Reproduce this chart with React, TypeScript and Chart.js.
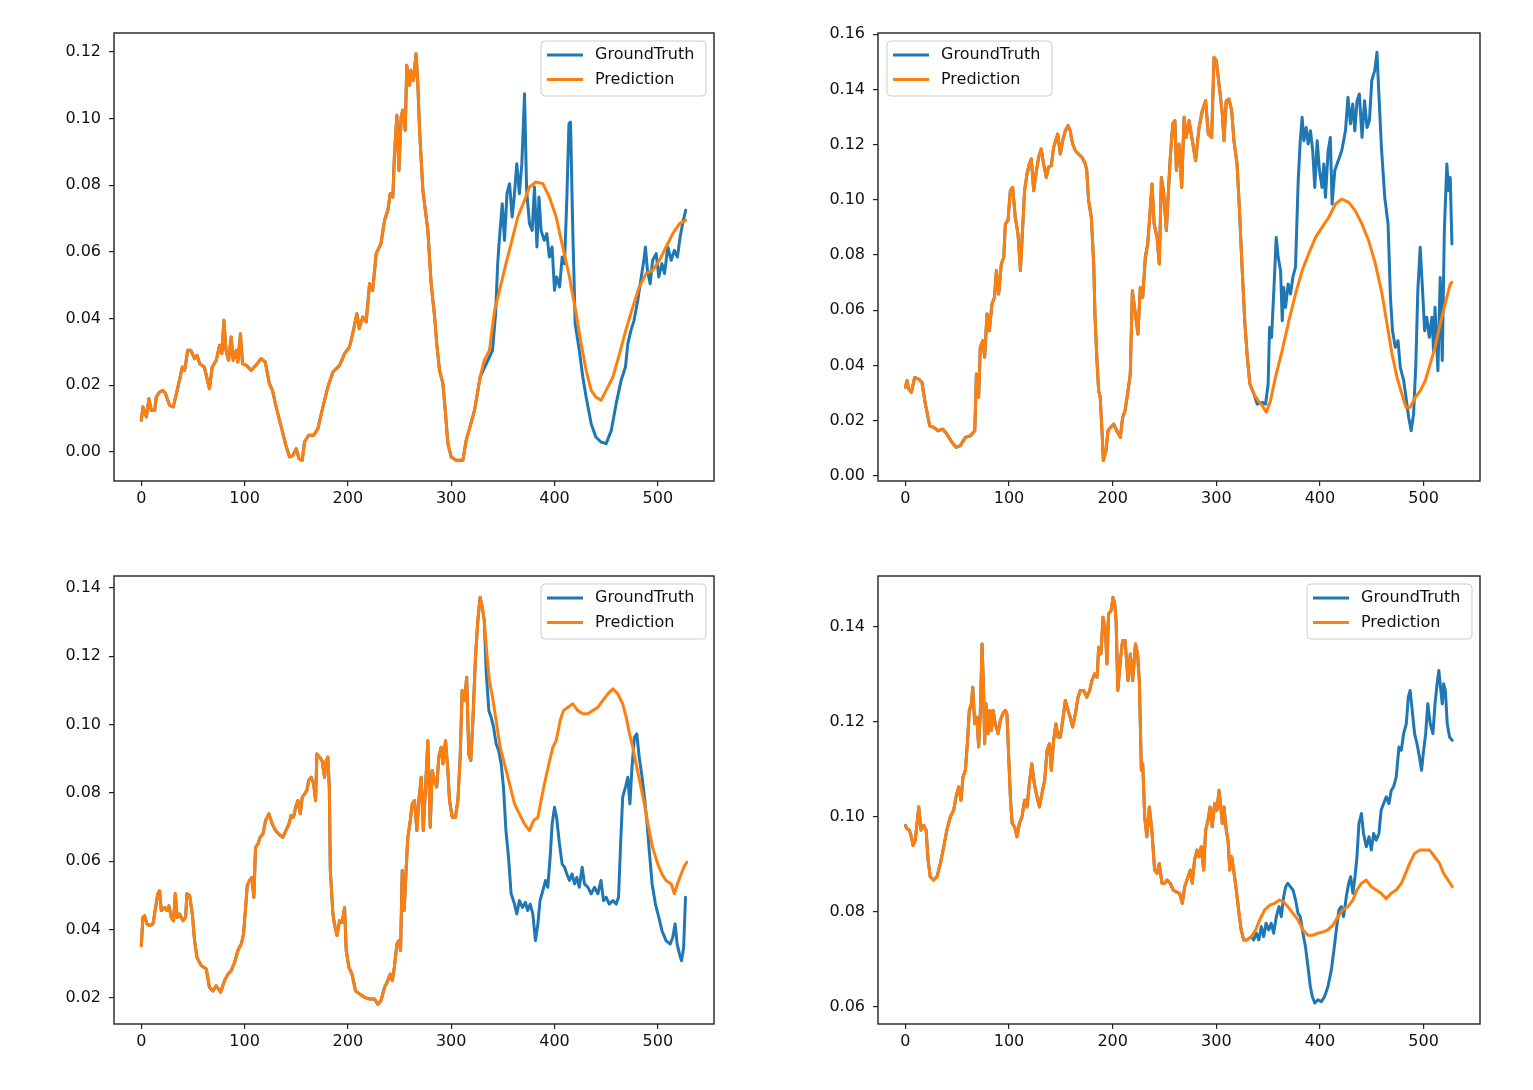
import React, { useEffect, useRef } from "react";
import { Chart, registerables } from "chart.js";

Chart.register(...registerables);

type P = [number, number];

// ---------------- data ----------------
const seriesNames = ["GroundTruth", "Prediction"];
const seriesColors = ["#1f77b4", "#ff7f0e"];
const xTicks = [0, 100, 200, 300, 400, 500];

// top-left panel
const tlYTicks = [0, 0.02, 0.04, 0.06, 0.08, 0.1, 0.12];
const tlShared: P[] = [[0,0.0095],[1.6,0.0135],[5,0.0105],[7.4,0.016],[9.7,0.0125],[13,0.0125],[14.5,0.0165],[17.7,0.018],[21,0.0185],[23.5,0.0175],[27.4,0.014],[31,0.0135],[34,0.0175],[37,0.0215],[39.7,0.0255],[42,0.0245],[45,0.0305],[48,0.0305],[51.6,0.028],[54,0.029],[56.5,0.0265],[61,0.0255],[66,0.019],[68.7,0.0255],[72.6,0.0275],[75.8,0.032],[78,0.0295],[80,0.0395],[82,0.0305],[84.5,0.0275],[87,0.0345],[89,0.0275],[92,0.0305],[93.5,0.027],[96,0.0355],[98,0.0265],[101.6,0.026],[106.5,0.0245],[111,0.026],[116,0.028],[120,0.027],[124,0.0205],[127,0.0185],[130.6,0.0135],[135.5,0.0075],[140,0.002],[143.5,-0.0015],[146.8,-0.001],[150,0.001],[152.6,-0.002],[155.8,-0.0025],[158,0.003],[162,0.005],[166.8,0.005],[171,0.007],[175.8,0.0135],[180.6,0.0195],[185.5,0.024],[192,0.026],[196.8,0.0295],[201.6,0.0315],[205,0.036],[208.7,0.0415],[211,0.037],[214.5,0.0405],[217.7,0.039],[221,0.0505],[224,0.0485],[227.4,0.0595],[232,0.0625],[235.5,0.0695],[238.7,0.0725],[241,0.0775],[243.5,0.0765],[245,0.0885],[247.4,0.101],[249.4,0.0845],[251.6,0.1005],[253,0.1025],[255.5,0.0965],[257,0.116],[259.7,0.11],[261,0.1145],[263.5,0.1115],[266,0.1195],[267.7,0.1105],[269.4,0.0965],[272.6,0.0785],[277.4,0.0665],[280.6,0.0505],[284,0.0405],[286,0.0325],[288.7,0.0245],[292,0.0205],[294.5,0.0115],[296.8,0.0025],[300,-0.0015],[304.8,-0.0025],[311.3,-0.0025],[314.5,0.0035],[317.7,0.007],[322.6,0.0125],[328,0.0225]];
const tlPredTail: P[] = [[332,0.0275],[337,0.0305],[342,0.0425],[346.8,0.0485],[353,0.0565],[358,0.0625],[364.5,0.0705],[371,0.0755],[375.8,0.0795],[382,0.081],[388.7,0.0805],[395,0.0765],[401.6,0.0705],[408,0.0615],[414.5,0.0525],[421,0.0415],[425.8,0.0325],[430.6,0.0245],[435.5,0.0185],[440,0.0165],[445,0.0155],[450,0.0185],[456.5,0.0225],[463,0.0295],[469,0.0365],[475.8,0.0435],[482,0.0495],[488.7,0.0535],[495,0.0545],[501.6,0.0575],[508,0.0615],[514.5,0.0655],[521,0.0685],[527,0.0695]];
const tlTruthTail: P[] = [[337,0.0285],[340,0.0305],[343,0.0415],[345,0.0565],[346.8,0.0645],[349.4,0.0745],[351.6,0.0635],[354,0.0775],[356.5,0.0805],[359,0.0705],[361,0.0765],[363.5,0.0865],[366,0.0775],[368.4,0.0865],[371,0.1075],[373,0.0785],[375.8,0.0685],[378.4,0.0665],[380.6,0.0795],[383,0.0615],[385,0.0765],[387,0.0665],[390,0.0635],[392.6,0.0655],[395,0.0585],[397.7,0.0615],[400,0.0485],[402,0.0525],[405,0.0495],[407.4,0.0585],[409.7,0.0565],[412,0.0765],[414,0.0985],[415.5,0.099],[417.7,0.0665],[420,0.0385],[424,0.0305],[427.4,0.0225],[430.6,0.0165],[435.5,0.0085],[440,0.0045],[445,0.003],[450,0.0025],[455,0.0065],[459.7,0.0145],[464.5,0.0215],[468.7,0.0255],[471,0.0325],[474,0.0365],[477,0.0395],[480.6,0.0455],[484,0.0525],[486.5,0.0575],[488,0.0615],[490,0.0545],[492.6,0.0505],[495,0.0575],[498.4,0.0595],[501,0.0525],[504,0.0565],[506.5,0.0535],[509.7,0.0615],[513,0.0575],[516,0.0605],[519,0.0585],[521.6,0.0645],[524,0.0685],[527,0.0725]];

// top-right panel
const trYTicks = [0, 0.02, 0.04, 0.06, 0.08, 0.1, 0.12, 0.14, 0.16];
const trShared: P[] = [[0,0.0321],[1.6,0.0345],[3.2,0.0315],[5.8,0.0303],[9,0.0357],[12.9,0.0351],[16,0.0339],[19.3,0.0261],[23.5,0.0182],[27.3,0.0176],[31.5,0.0164],[36,0.017],[40,0.0152],[45,0.0122],[49,0.0104],[53,0.011],[57.9,0.014],[62.7,0.0146],[67,0.0164],[68.5,0.0369],[70.7,0.0285],[72.3,0.0466],[74.6,0.049],[76.5,0.043],[78.8,0.0587],[81,0.0526],[83.6,0.0623],[86,0.0647],[87.8,0.0744],[90,0.0659],[92.6,0.0768],[94.9,0.0792],[96.5,0.0913],[99,0.0925],[101.3,0.1033],[103.5,0.1045],[106,0.0937],[108.7,0.0876],[111,0.0744],[113,0.0888],[115,0.1033],[117.4,0.1094],[119.6,0.113],[121.5,0.1148],[123.8,0.1033],[126,0.1094],[128.6,0.1154],[131,0.1184],[133.4,0.113],[136,0.1081],[138,0.1118],[140.8,0.1124],[143,0.119],[145,0.1214],[147,0.1238],[149.5,0.1166],[151.8,0.1214],[154.3,0.125],[157,0.1269],[159,0.125],[161.4,0.1202],[164,0.1178],[167,0.1166],[170.4,0.1154],[173.6,0.113],[175,0.1106],[176.8,0.0997],[179.4,0.0937],[181.7,0.0768],[183,0.0575],[185,0.0406],[186.5,0.0309],[188,0.0285],[189.7,0.0164],[191,0.0056],[193.6,0.0092],[195.5,0.0164],[198,0.0176],[201,0.0188],[204,0.0164],[207.4,0.014],[209.6,0.0212],[212,0.0237],[214.8,0.0309],[217,0.0369],[219,0.0671],[221.9,0.0587],[224.4,0.0514],[226.7,0.0683],[229,0.0647],[231.5,0.0792],[233.8,0.084],[235.7,0.0937],[238,0.1057],[240,0.0913],[242.8,0.0864],[245,0.0768],[247,0.1081],[249,0.1033],[251.8,0.0888],[254,0.1045],[255.6,0.1154],[258,0.1275],[260,0.1287],[261.5,0.1106],[264,0.1202],[266.6,0.1045],[268.9,0.1299],[271,0.1226],[273.7,0.1287],[276.9,0.1214],[280,0.1142],[283.4,0.1262],[286.5,0.1323],[289.7,0.1359],[292.3,0.1238],[295.5,0.1226],[297.8,0.1516],[300,0.1504],[302.6,0.1419],[305.8,0.1311],[307.4,0.1214],[309.6,0.1359],[312.2,0.1365],[314.8,0.1323],[317,0.1214],[320,0.113],[322.5,0.0949],[325,0.0744],[327.6,0.055],[329.9,0.043],[332.4,0.0333],[336.3,0.0297]];
const trPredTail: P[] = [[340.4,0.0273],[344.3,0.0255],[348.2,0.0231],[352.3,0.0273],[357,0.0357],[363.5,0.0454],[370,0.0562],[376.4,0.0659],[382.8,0.0744],[389,0.0804],[395.7,0.0864],[402,0.09],[408.5,0.0937],[415,0.0985],[421,0.1003],[427.8,0.0991],[434,0.0961],[440.6,0.0912],[447,0.0852],[453.5,0.0768],[459.9,0.0659],[464.7,0.055],[469.5,0.0442],[474.3,0.0357],[479,0.0297],[483,0.0249],[487,0.0249],[492,0.0285],[496.8,0.0309],[501.6,0.0345],[506.4,0.0406],[511,0.0466],[516,0.055],[520.8,0.0623],[525.7,0.0695],[527.3,0.0701]];
const trTruthTail: P[] = [[339.5,0.026],[344.3,0.0267],[347.5,0.026],[350,0.0333],[351.4,0.0538],[353.3,0.0502],[355.5,0.0671],[357.8,0.0864],[359.7,0.0792],[362,0.0744],[363.6,0.0562],[365,0.0683],[366.8,0.0611],[369.3,0.0695],[371.6,0.0659],[373.8,0.0719],[376.4,0.0756],[379,0.1069],[381,0.1214],[382.8,0.1299],[384.4,0.1214],[386.7,0.1262],[388.6,0.1202],[390.8,0.125],[393,0.1178],[395,0.1045],[397.3,0.1214],[399.5,0.1106],[402,0.1045],[403.7,0.113],[405.3,0.1009],[407.9,0.1178],[410,0.1226],[411.7,0.0985],[414.3,0.1106],[416.5,0.113],[418.8,0.1154],[421,0.1178],[424.6,0.125],[427,0.1371],[429.4,0.1275],[431.6,0.1347],[433.6,0.125],[435.8,0.1359],[438,0.1383],[440.6,0.1226],[443,0.1359],[445.4,0.1262],[447.7,0.1287],[450,0.1432],[452.8,0.1468],[455,0.1534],[456.7,0.1395],[459.3,0.119],[462.5,0.1009],[465.7,0.0913],[468,0.0647],[470,0.0526],[472.7,0.0466],[475.3,0.049],[477.5,0.0393],[480.8,0.0345],[483,0.0285],[485.6,0.0212],[488,0.0164],[490.3,0.0224],[492.5,0.0406],[494.4,0.0671],[496.7,0.0828],[499,0.0671],[501,0.0526],[503,0.0575],[505.5,0.0502],[508,0.0575],[509.6,0.0454],[511,0.0611],[513.8,0.0381],[516,0.0719],[518,0.0418],[520,0.0888],[522.4,0.113],[524,0.1033],[525.7,0.1081],[527.3,0.084]];

// bottom-left panel
const blYTicks = [0.02, 0.04, 0.06, 0.08, 0.1, 0.12, 0.14];
const blShared: P[] = [[0,0.0353],[1.6,0.0436],[3.2,0.0441],[5.5,0.0417],[8,0.0412],[11.3,0.0417],[13.9,0.0465],[16,0.0505],[17.7,0.0514],[19.4,0.0456],[22.6,0.0465],[24.8,0.0456],[26.8,0.047],[29,0.0436],[31.3,0.0426],[32.9,0.0505],[34.8,0.0436],[37,0.0446],[40.3,0.0426],[42.9,0.0436],[44.2,0.0505],[46.8,0.05],[49.4,0.0446],[51.6,0.0368],[53.9,0.0319],[58,0.0295],[62.9,0.0285],[66,0.0231],[69.4,0.0221],[72.6,0.0236],[76.8,0.0217],[80.6,0.0251],[83.9,0.027],[87,0.028],[90.3,0.0304],[93.5,0.0339],[96.8,0.0358],[99,0.0387],[101,0.0465],[102.6,0.0529],[104.8,0.0544],[107,0.0553],[109,0.0495],[110.6,0.0641],[113,0.0651],[115,0.067],[117.7,0.068],[120.3,0.0719],[123.5,0.0739],[126.8,0.0709],[130,0.069],[133,0.068],[137,0.067],[140,0.069],[142.9,0.0709],[145,0.0734],[147.4,0.0729],[149.4,0.0758],[151.6,0.0778],[153.9,0.0739],[155.8,0.0788],[158,0.0797],[160.3,0.0807],[162,0.0836],[164.5,0.0846],[166.8,0.0827],[168.7,0.0778],[170,0.0914],[172.6,0.0905],[175,0.0895],[177.4,0.0846],[179,0.0895],[180.6,0.0905],[182,0.0817],[183,0.0573],[185.5,0.0446],[187,0.0417],[189.4,0.0383],[191.9,0.0426],[194.5,0.0421],[196.8,0.0465],[198.4,0.0339],[201,0.029],[204,0.027],[207.4,0.0221],[211.3,0.0212],[216,0.0202],[221,0.0197],[225.8,0.0197],[229,0.0182],[232,0.0192],[235.5,0.0231],[238.7,0.0251],[241,0.027],[243,0.0251],[245,0.029],[247.4,0.0358],[249.4,0.0368],[251,0.0339],[252.6,0.0573],[254.5,0.0456],[256.5,0.0583],[258,0.067],[260,0.0709],[262.3,0.0768],[264.5,0.0778],[266.8,0.069],[268.7,0.0778],[271,0.0846],[273,0.069],[275,0.0807],[277.4,0.0953],[279.7,0.07],[281.6,0.0866],[284,0.0836],[286,0.0817],[288,0.0905],[290.3,0.0934],[292,0.0885],[294.5,0.0953],[296.8,0.0866],[298.4,0.0778],[301,0.0729],[304,0.0729],[306.5,0.0778],[308.7,0.0905],[310.6,0.11],[313,0.1071],[315,0.1139],[317,0.0914],[319,0.0895],[321,0.1012],[323.5,0.1197],[325.8,0.1305],[328,0.1373],[330,0.1344],[332,0.1305]];
const blPredTail: P[] = [[334.5,0.1207],[337,0.1129],[340,0.108],[343.5,0.1012],[347.4,0.0934],[351.6,0.0885],[356.5,0.0827],[361.3,0.0768],[366,0.0739],[371,0.0709],[375.8,0.069],[379.7,0.0719],[383.9,0.0729],[387,0.0778],[390.3,0.0827],[394.5,0.0885],[398.4,0.0934],[401.6,0.0953],[405.5,0.1012],[408.7,0.1041],[413,0.1051],[417.7,0.1061],[422.6,0.1041],[427.4,0.1032],[432.3,0.1032],[437,0.1041],[442,0.1051],[446.8,0.1071],[451.6,0.109],[456.5,0.1105],[461.3,0.109],[466,0.1061],[469.4,0.1022],[472.6,0.0973],[475.8,0.0934],[479,0.0885],[483,0.0827],[487,0.0768],[491,0.07],[495,0.0641],[500,0.0592],[504,0.0563],[508,0.0544],[513,0.0534],[516,0.0505],[519,0.0534],[522.6,0.0563],[525.8,0.0587],[528,0.0597]];
const blTruthTail: P[] = [[334,0.1149],[336.5,0.1041],[338.7,0.1022],[341,0.0993],[343.5,0.0944],[346,0.0924],[348.4,0.0885],[350.6,0.0817],[353,0.069],[355.5,0.0612],[358,0.0505],[361.3,0.0475],[363.5,0.0446],[366,0.0485],[369,0.0465],[371.9,0.048],[374,0.0456],[376.5,0.0475],[379,0.0446],[381.6,0.0368],[383.9,0.0417],[386,0.0485],[388.7,0.0514],[391.3,0.0544],[393.5,0.0524],[395.8,0.0612],[397.7,0.0709],[400,0.0758],[402,0.0729],[404.8,0.0651],[407.4,0.0592],[409.7,0.0583],[412,0.0563],[414.5,0.0544],[417,0.0563],[419.4,0.0534],[421.6,0.0553],[424,0.0524],[426.8,0.0583],[429,0.0534],[432.3,0.0524],[435.5,0.0505],[438.7,0.0524],[442,0.0505],[445,0.0544],[447.4,0.0485],[450,0.0495],[453,0.0475],[456.5,0.0485],[459.7,0.0475],[462,0.0495],[464,0.0651],[466,0.0788],[468.7,0.0817],[471,0.0846],[473,0.0768],[475,0.0875],[477.4,0.0963],[479.7,0.0973],[482,0.0905],[484.8,0.0846],[487,0.0788],[489.4,0.0719],[492,0.0622],[494.5,0.0534],[497.7,0.0475],[501,0.0436],[504,0.0397],[508,0.0368],[512,0.0358],[514.5,0.0378],[516.8,0.0417],[518.7,0.0358],[521,0.0329],[523,0.0309],[525,0.0348],[526.8,0.0495]];

// bottom-right panel
const brYTicks = [0.06, 0.08, 0.1, 0.12, 0.14];
const brShared: P[] = [[0,0.0982],[1.6,0.0975],[3.9,0.0972],[5.8,0.0958],[7.4,0.094],[9.6,0.0951],[12.9,0.1021],[15,0.0972],[17.7,0.0982],[20,0.0972],[21.9,0.0909],[24,0.0874],[27.3,0.0867],[30.5,0.0874],[33.8,0.0902],[37,0.0937],[40,0.0972],[43.4,0.1],[46.6,0.1014],[48.9,0.1042],[51.4,0.1063],[53.7,0.1035],[55.6,0.1084],[57.9,0.1098],[59.8,0.1154],[61.7,0.1224],[63.7,0.1238],[65,0.1273],[66.9,0.1196],[69,0.121],[70.7,0.1147],[72.3,0.1217],[74,0.1364],[75.6,0.1252],[76.5,0.1154],[77.8,0.1238],[79.7,0.1175],[81.4,0.1224],[83,0.1182],[84.6,0.1224],[86.8,0.1196],[89.4,0.1175],[91.6,0.1203],[94,0.1217],[96.5,0.1224],[98,0.1217],[99.7,0.1126],[101.3,0.1042],[103,0.0986],[105.5,0.0979],[107.7,0.0958],[110,0.0986],[112.5,0.1],[115,0.1035],[117.4,0.1021],[119.6,0.107],[122,0.1112],[124.4,0.107],[127,0.1042],[129.3,0.1021],[131.8,0.1049],[134.4,0.1077],[136.7,0.114],[139,0.1154],[140.8,0.1098],[143,0.1161],[145.3,0.1196],[147.3,0.1168],[149.5,0.1168],[151.8,0.1203],[154.3,0.1245],[157,0.1224],[159,0.121],[161.4,0.1189],[164,0.1217],[166.6,0.1252],[168.8,0.1266],[172,0.1266],[175,0.1252],[177.8,0.1266],[180,0.1287],[182.6,0.1301],[185,0.1294],[186.5,0.1357],[188.7,0.1343],[190.7,0.142],[193,0.1392],[194.5,0.1322],[196,0.1427],[198.4,0.1434],[200.3,0.1462],[202,0.1448],[203.3,0.1413],[205,0.1266],[207.4,0.1329],[209.6,0.1371],[212,0.1371],[214.8,0.1287],[217,0.1343],[219.3,0.1287],[222,0.1364],[224,0.1343],[225.7,0.1287],[227.7,0.1098],[229,0.1112],[230.9,0.1],[233,0.0958],[235.4,0.1021],[238,0.0965],[240.5,0.0888],[242.8,0.0881],[245,0.0902],[247.6,0.086],[250,0.086],[252.4,0.0867],[255.6,0.086],[258.5,0.0846],[261.4,0.0842],[264.6,0.0839],[267.2,0.0818],[269.5,0.0853],[272.7,0.0874],[275,0.0888],[276.8,0.086],[279,0.0909],[281.4,0.093],[283.3,0.0916],[285.5,0.0937],[287.8,0.0888],[289.7,0.0972],[292,0.0993],[294,0.1021],[296,0.0979],[298.4,0.1028],[300.6,0.1014],[302.6,0.1056],[304,0.1028],[305.8,0.0986],[307.4,0.1021],[309.6,0.0972],[311.3,0.0951],[313,0.0888],[314.8,0.0916],[316.7,0.0888],[319.3,0.0846],[321.9,0.0797],[324,0.0762],[326.4,0.0741],[329.6,0.0741],[333.8,0.0748]];
const brPredTail: P[] = [[338,0.0762],[341.8,0.0783],[346.6,0.0804],[351.4,0.0814],[356.3,0.0818],[361,0.0825],[365,0.0821],[369,0.0811],[374,0.0797],[378.8,0.0783],[383.6,0.0762],[388.4,0.0751],[393.2,0.0751],[398,0.0755],[403,0.0758],[407.7,0.0762],[412.5,0.0772],[417.4,0.079],[422,0.0804],[427,0.0811],[431.8,0.0825],[435.7,0.0846],[439.9,0.086],[444.7,0.0867],[449.5,0.0853],[454.3,0.0846],[459,0.0839],[464,0.0828],[468.8,0.0839],[473.6,0.0846],[478.5,0.086],[482.6,0.0881],[486.5,0.0902],[491.3,0.0923],[496,0.093],[501,0.093],[505.8,0.093],[510.6,0.0916],[515.4,0.0902],[519.3,0.0881],[523.5,0.0867],[527.7,0.0853]];
const brTruthTail: P[] = [[336,0.0741],[338.6,0.0755],[341,0.0741],[343.4,0.0769],[345.7,0.0748],[348,0.0776],[350.5,0.0762],[353,0.0776],[355.3,0.0755],[357.9,0.079],[360.5,0.0811],[362.7,0.079],[365,0.0832],[366.9,0.0853],[369,0.086],[371.4,0.0853],[374,0.0846],[376.5,0.0825],[378.8,0.0797],[381,0.079],[383.6,0.0755],[386,0.0727],[388.4,0.0685],[390.7,0.0643],[392.6,0.0622],[395,0.0608],[398,0.0615],[401.3,0.0611],[404.5,0.0622],[407.7,0.0643],[411,0.0678],[413.5,0.072],[415.8,0.0762],[418.3,0.0804],[420.6,0.0811],[422.8,0.079],[425.4,0.0832],[427.7,0.086],[429.6,0.0874],[431.8,0.0839],[433.8,0.0874],[435.7,0.0916],[437.6,0.0986],[440,0.1007],[442,0.0965],[444.7,0.0937],[447.3,0.0958],[449.5,0.093],[451.8,0.0965],[454.3,0.0951],[456.9,0.0965],[459,0.1014],[461.4,0.1028],[464,0.1042],[466.6,0.1028],[468.8,0.1056],[471,0.1063],[473.6,0.1084],[476.2,0.1147],[478.5,0.114],[480.7,0.1175],[483.3,0.1196],[485.2,0.1252],[487,0.1266],[489,0.1224],[491.3,0.1175],[493.6,0.1154],[496,0.1126],[498,0.1098],[500,0.114],[502,0.1175],[504,0.1238],[506.4,0.1196],[509,0.1175],[511,0.1238],[513,0.128],[514.7,0.1308],[516.3,0.1273],[518,0.1238],[519.3,0.128],[521,0.1266],[522.8,0.1196],[525,0.1168],[527.6,0.1161]];

// ---------------- layout ----------------
const AXIS_W = 100;
const AXIS_H = 40;
const PAD_TOP = 20;
const PAD_RIGHT = 10;
const FONT = "'DejaVu Sans', 'Liberation Sans', sans-serif";

type PanelProps = {
  area: { left: number; top: number; width: number; height: number };
  shared: P[];
  pred: P[];
  truth: P[];
  yMin: number;
  yMax: number;
  yTicks: number[];
  legendLeft: boolean;
};

function Panel({ area, shared, pred, truth, yMin, yMax, yTicks, legendLeft }: PanelProps) {
  const ref = useRef<HTMLCanvasElement>(null);
  const cw = area.width + AXIS_W + PAD_RIGHT;
  const ch = area.height + PAD_TOP + AXIS_H;

  useEffect(() => {
    if (!ref.current) return;
    const toPts = (a: P[]) => a.map(([x, y]) => ({ x, y }));
    const truthData = toPts([...shared, ...truth]);
    const predData = toPts([...shared, ...pred]);

    const framePlugin = {
      id: "frame",
      afterDatasetsDraw(chart: any) {
        const { ctx, chartArea } = chart;
        ctx.save();
        ctx.strokeStyle = "#222";
        ctx.lineWidth = 1.4;
        ctx.strokeRect(chartArea.left, chartArea.top, chartArea.right - chartArea.left, chartArea.bottom - chartArea.top);
        ctx.restore();
      },
    };

    const legendPlugin = {
      id: "boxLegend",
      afterDraw(chart: any) {
        const { ctx, chartArea } = chart;
        const w = 165;
        const h = 55;
        const bx = legendLeft ? chartArea.left + 9 : chartArea.right - 8 - w;
        const by = chartArea.top + 8;
        ctx.save();
        ctx.beginPath();
        const r = 4;
        ctx.moveTo(bx + r, by);
        ctx.lineTo(bx + w - r, by);
        ctx.arcTo(bx + w, by, bx + w, by + r, r);
        ctx.lineTo(bx + w, by + h - r);
        ctx.arcTo(bx + w, by + h, bx + w - r, by + h, r);
        ctx.lineTo(bx + r, by + h);
        ctx.arcTo(bx, by + h, bx, by + h - r, r);
        ctx.lineTo(bx, by + r);
        ctx.arcTo(bx, by, bx + r, by, r);
        ctx.closePath();
        ctx.fillStyle = "rgba(255,255,255,0.8)";
        ctx.fill();
        ctx.strokeStyle = "#cccccc";
        ctx.lineWidth = 1;
        ctx.stroke();
        ctx.font = `16px ${FONT}`;
        ctx.textBaseline = "middle";
        ctx.textAlign = "left";
        seriesNames.forEach((name, i) => {
          const y = by + 14 + i * 24.5;
          ctx.strokeStyle = seriesColors[i];
          ctx.lineWidth = 3;
          ctx.beginPath();
          ctx.moveTo(bx + 6, y);
          ctx.lineTo(bx + 42, y);
          ctx.stroke();
          ctx.fillStyle = "#111";
          ctx.fillText(name, bx + 54, y);
        });
        ctx.restore();
      },
    };

    const tickFont = { family: FONT, size: 16 };
    const chart = new Chart(ref.current, {
      type: "line",
      data: {
        datasets: [
          { label: seriesNames[0], data: truthData, borderColor: seriesColors[0], backgroundColor: seriesColors[0], order: 1 },
          { label: seriesNames[1], data: predData, borderColor: seriesColors[1], backgroundColor: seriesColors[1], order: 0 },
        ],
      },
      options: {
        animation: false,
        responsive: false,
        devicePixelRatio: 1,
        layout: { padding: { left: 0, top: PAD_TOP, right: PAD_RIGHT, bottom: 0 } },
        plugins: { legend: { display: false }, tooltip: { enabled: false } },
        elements: {
          point: { radius: 0, hoverRadius: 0 },
          line: { borderWidth: 3, tension: 0, borderJoinStyle: "round", borderCapStyle: "round" },
        },
        scales: {
          x: {
            type: "linear",
            min: -26.4,
            max: 554.4,
            afterBuildTicks: (s: any) => {
              s.ticks = xTicks.map((v) => ({ value: v }));
            },
            afterFit: (s: any) => {
              s.height = AXIS_H;
            },
            grid: { display: true, drawOnChartArea: false, drawTicks: true, tickLength: 5, color: "#222", lineWidth: 1.2 },
            border: { display: false },
            ticks: { color: "#111", font: tickFont, padding: 3, maxRotation: 0, autoSkip: false, callback: (v: any) => String(v) },
          },
          y: {
            type: "linear",
            min: yMin,
            max: yMax,
            afterBuildTicks: (s: any) => {
              s.ticks = yTicks.map((v) => ({ value: v }));
            },
            afterFit: (s: any) => {
              s.width = AXIS_W;
            },
            grid: { display: true, drawOnChartArea: false, drawTicks: true, tickLength: 5, color: "#222", lineWidth: 1.2 },
            border: { display: false },
            ticks: { color: "#111", font: tickFont, padding: 8, autoSkip: false, callback: (v: any) => Number(v).toFixed(2) },
          },
        },
      },
      plugins: [framePlugin, legendPlugin],
    } as any);
    return () => chart.destroy();
  }, []);

  return (
    <canvas
      ref={ref}
      width={cw}
      height={ch}
      style={{
        position: "absolute",
        left: area.left - AXIS_W,
        top: area.top - PAD_TOP,
        width: cw,
        height: ch,
      }}
    />
  );
}

export default function App() {
  return (
    <div style={{ position: "absolute", left: 0, top: 0, width: 1533, height: 1090, background: "#fff", overflow: "hidden" }}>
      <Panel area={{ left: 114, top: 33, width: 600, height: 448 }} shared={tlShared} pred={tlPredTail} truth={tlTruthTail} yMin={-0.0087} yMax={0.1257} yTicks={tlYTicks} legendLeft={false} />
      <Panel area={{ left: 878, top: 33, width: 602, height: 448 }} shared={trShared} pred={trPredTail} truth={trTruthTail} yMin={-0.0018} yMax={0.1604} yTicks={trYTicks} legendLeft={true} />
      <Panel area={{ left: 114, top: 576, width: 600, height: 448 }} shared={blShared} pred={blPredTail} truth={blTruthTail} yMin={0.0124} yMax={0.1435} yTicks={blYTicks} legendLeft={false} />
      <Panel area={{ left: 878, top: 576, width: 602, height: 448 }} shared={brShared} pred={brPredTail} truth={brTruthTail} yMin={0.0564} yMax={0.1507} yTicks={brYTicks} legendLeft={false} />
    </div>
  );
}
